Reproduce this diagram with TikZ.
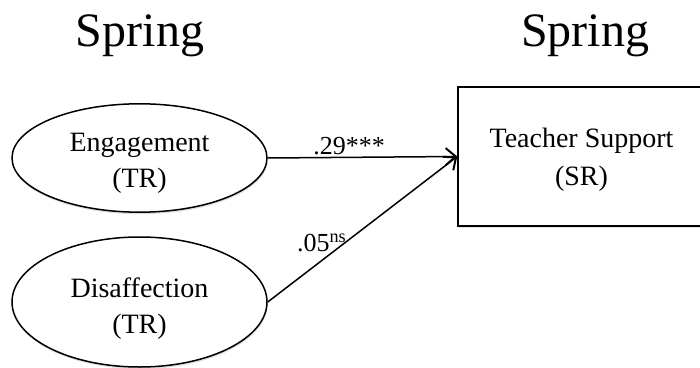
\documentclass[tikz,border=0pt]{standalone}
\usepackage{fontspec}
\setmainfont{Liberation Serif}
\usetikzlibrary{shapes.geometric,arrows.meta,shadows}
\newcommand{\padtop}[1]{\rule{0pt}{#1}}

\begin{document}
\begin{tikzpicture}[x=1pt,y=1pt,
    latent/.style={draw,ellipse,line width=1.5pt,minimum width=255pt,align=center,
      font=\fontsize{28}{36}\selectfont,fill=white,
      drop shadow={shadow xshift=0.5pt,shadow yshift=-2pt,fill=black!25}},
    observed/.style={draw,rectangle,line width=1.5pt,minimum width=247pt,minimum height=139pt,
      align=center,font=\fontsize{28}{38}\selectfont,fill=white,
      drop shadow={shadow xshift=0.5pt,shadow yshift=-2pt,fill=black!25}},
    wave/.style={font=\fontsize{48}{58}\selectfont,anchor=base},
    coef/.style={font=\fontsize{26}{30}\selectfont},
    path/.style={line width=1.5pt,-{Straight Barb[length=10pt,width=17pt,line width=2pt]}}]
    \clip (0,0) rectangle (700,367);

    % Time points
    \node[wave] (springL) at (140,320) {Spring};
    \node[wave] (springR) at (585,320) {Spring};

    % Predictors and outcome
    \node[latent,minimum height=100pt] (eng) at (139.5,209) {\padtop{28pt}Engagement\\(TR)};
    \node[latent,minimum height=130pt] (dis) at (139.5,65) {\padtop{32pt}Disaffection\\(TR)};
    \node[observed] (tsup) at (581.5,210.5) {\padtop{25pt}Teacher Support\\(SR)};
    \coordinate (hit) at (tsup.west);

    % Paths
    \draw[path] (eng.east) -- node[coef,pos=0.43,above,yshift=-2pt] {.29***} (hit);
    \draw[path] (dis.east) -- node[coef,pos=0.32,above left,xshift=22pt,yshift=-1pt] {.05\textsuperscript{ns}} (hit);
\end{tikzpicture}
\end{document}
